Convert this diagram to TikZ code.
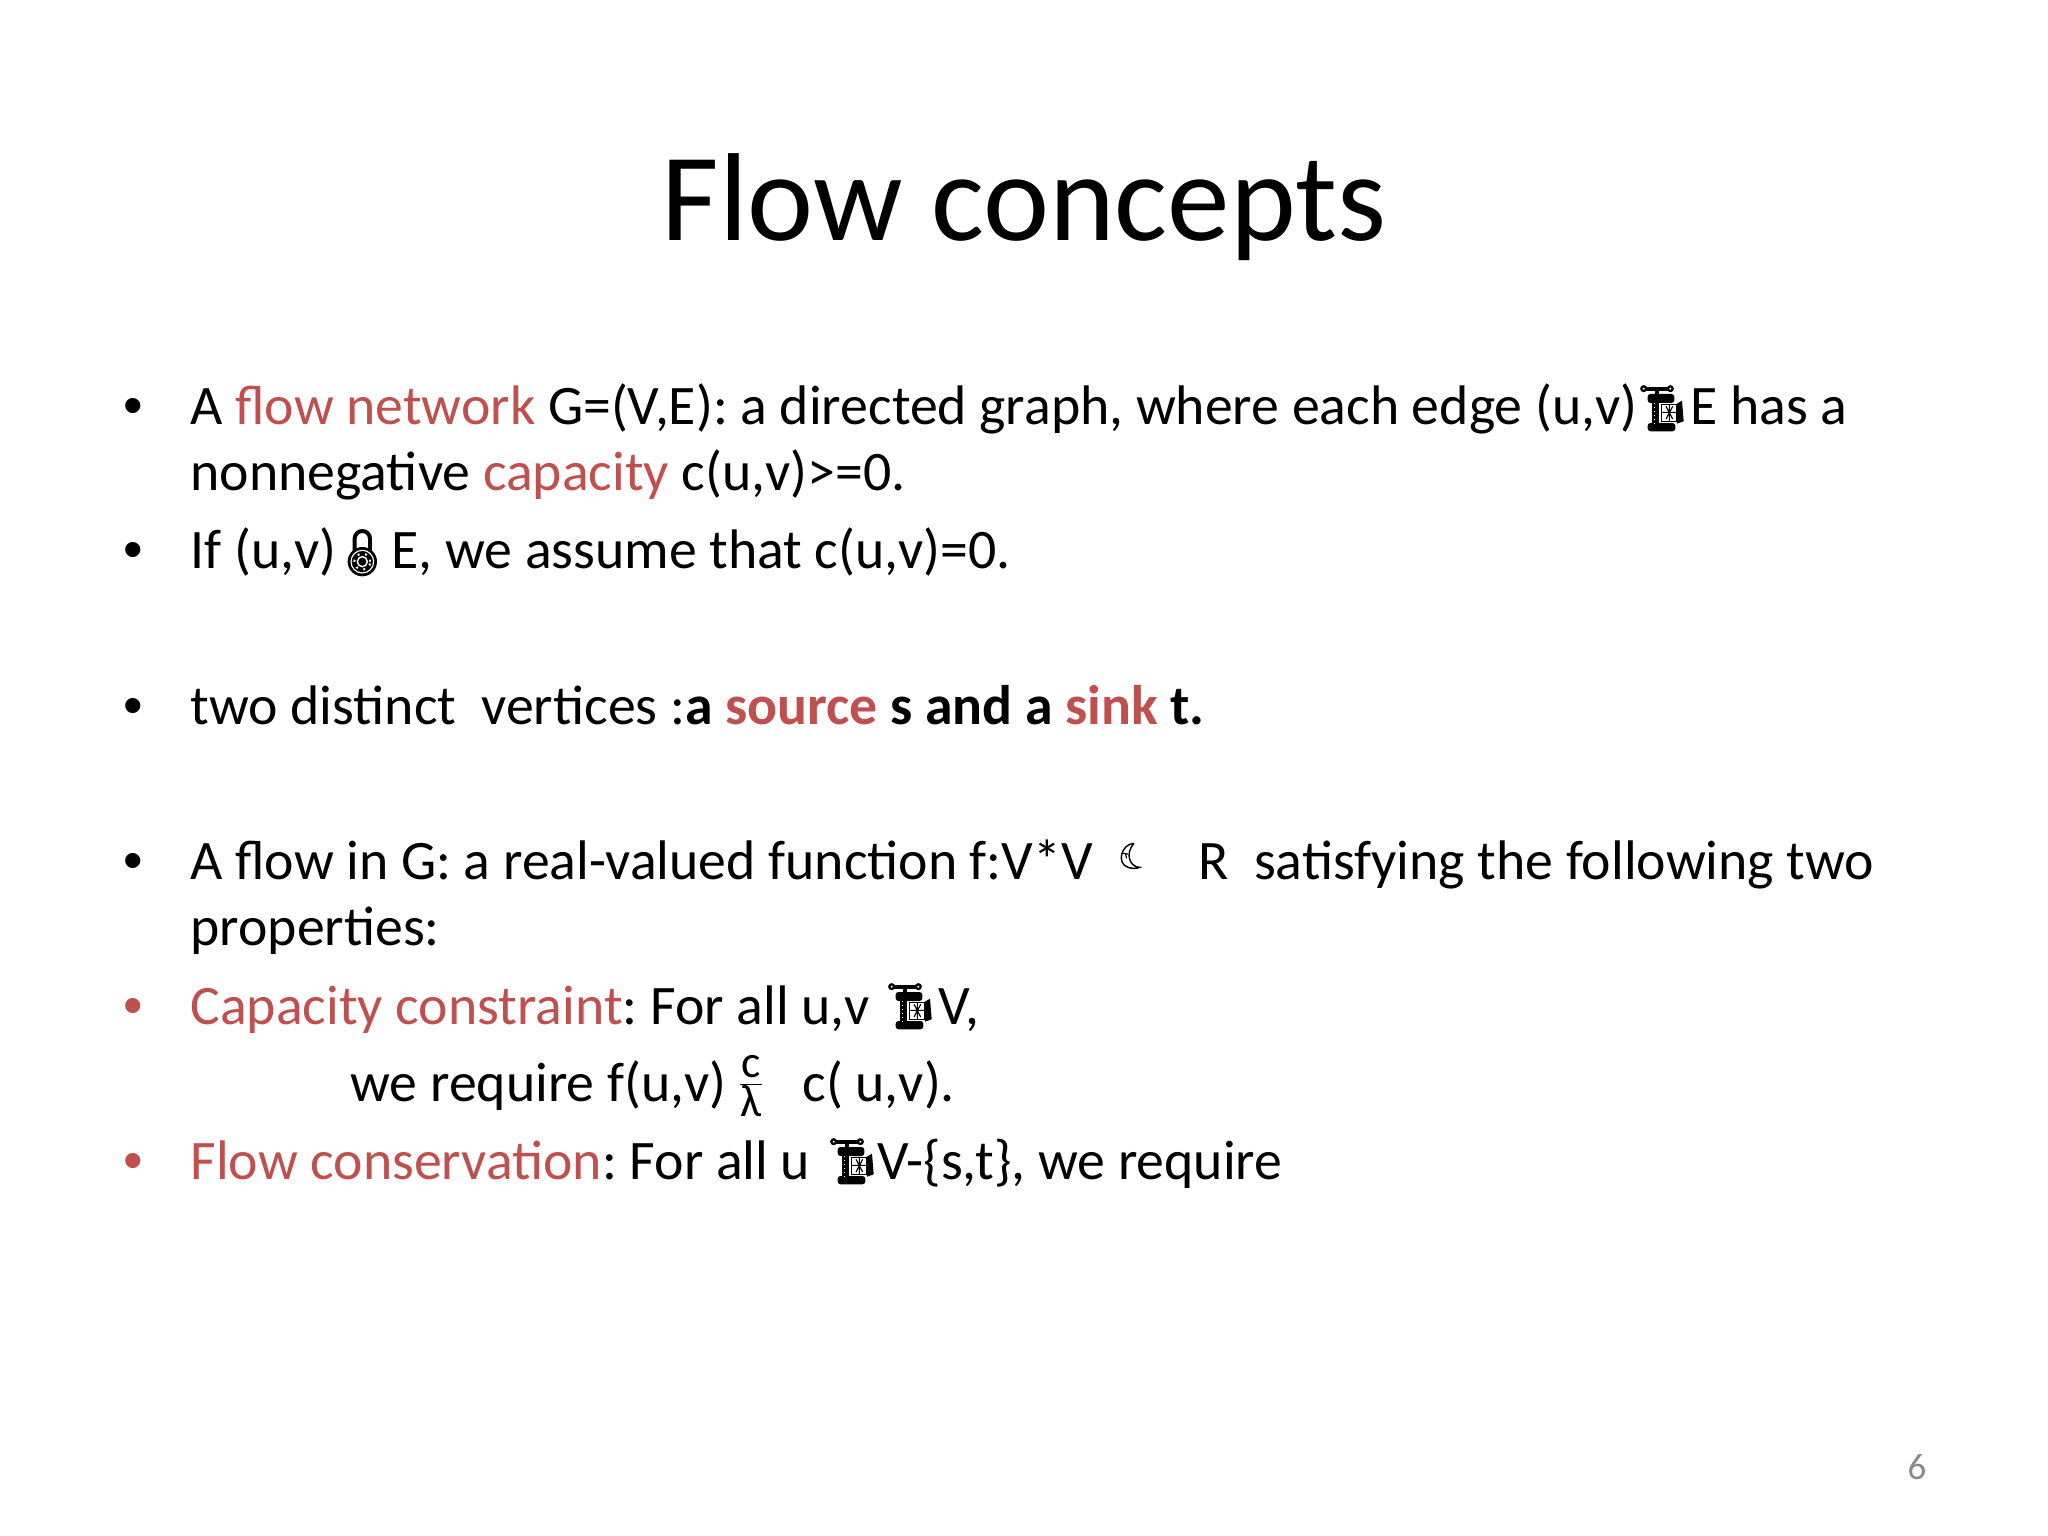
\documentclass[tikz,border=0pt]{standalone}
\usepackage{fontspec}
\setmainfont{Carlito}
\newfontfamily\bulletfont{Liberation Sans}
\definecolor{accentred}{HTML}{C0504D}
\definecolor{numgray}{HTML}{898989}
\newcommand{\redtext}[1]{\textcolor{accentred}{#1}}
\tikzset{
  body/.style={anchor=base west,inner sep=0pt,font=\fontsize{19.6}{24}\selectfont\frenchspacing},
  bulletmark/.style={anchor=base west,inner sep=0pt,font=\bulletfont\fontsize{19.6}{24}\selectfont},
  pics/clampicon/.style={code={
    \begin{scope}[yscale=-1,scale=1/3]
      \draw[line width=0.8pt,fill=white] (5,133) circle (7) (85,133) circle (7);
      \draw[line width=1.3pt] (12,133) -- (78,133) (45,133) -- (45,115);
      \fill[rounded corners=1pt] (17,117) rectangle (97,90);
      \fill[rounded corners=1pt] (17,30) rectangle (100,5);
      \fill (30,92) rectangle (52,28);
      \draw[white,line width=0.4pt,densely dotted] (37,90) -- (37,30);
      \fill (100,85) -- (120,97) -- (125,35) -- (105,28) -- cycle;
      \draw[line width=0.5pt,fill=white] (58,85) rectangle (105,35);
      \draw[line width=0.4pt] (58,62) -- (105,62) (72,80) -- (92,42) (72,42) -- (92,80) (82,85) -- (82,35);
    \end{scope}}},
  pics/lockicon/.style={code={
    \begin{scope}[yscale=-1,scale=1/3]
      \draw[line width=1.4pt] (20,75) -- (20,112) arc (180:0:23) -- (66,75);
      \fill (43,43) circle (44);
      \draw[white,line width=0.4pt] (43,43) circle (34);
      \draw[white,line width=0.5pt] (43,43) circle (15);
      \draw[white,line width=0.7pt,dotted] (43,43) circle (24);
    \end{scope}}},
  pics/moonicon/.style={code={
    \begin{scope}[yscale=-1,scale=1/3]
      \draw[line width=0.5pt] (48,80) .. controls (10,78) and (-6,20) .. (30,8) .. controls (40,4) and (58,4) .. (65,8)
        .. controls (35,8) and (20,50) .. (48,80);
      \draw[line width=0.4pt] (15,50) -- (30,48) (22,50) -- (26,35);
    \end{scope}}}
}
\begin{document}
\begin{tikzpicture}[x=0.3515625pt,y=-0.3515625pt]
  \useasboundingbox (0,0) rectangle (2048,1536);
  % title and page number
  \node[anchor=base,inner sep=0pt,font=\fontsize{44}{50}\selectfont] (title) at (1024,241) {Flow concepts};
  \node[anchor=base,inner sep=0pt,text=numgray,font=\fontsize{13}{15}\selectfont] (pagenum) at (1917,1479) {6};
  % bullets
  \node[bulletmark] (b1) at (123,425) {•};
  \node[bulletmark] (b2) at (123,569) {•};
  \node[bulletmark] (b3) at (123,724) {•};
  \node[bulletmark] (b4) at (123,879) {•};
  \node[bulletmark,text=accentred] (b5) at (123,1024) {•};
  \node[bulletmark,text=accentred] (b6) at (123,1179) {•};
  % text lines
  \node[body] (l1) at (190,425) {A \redtext{flow network} G=(V,E): a directed graph, where each edge (u,v)};
  \node[body] (l1b) at (1690,425) {E has a};
  \node[body] (l2) at (190,491) {nonnegative \redtext{capacity} c(u,v)>=0.};
  \node[body] (l3) at (190,569) {If (u,v)};
  \node[body] (l3b) at (391,569) {E, we assume that c(u,v)=0.};
  \node[body] (l4) at (190,724) {two distinct\ \ vertices :\textbf{a \redtext{source} s and a \redtext{sink} t.}};
  \node[body] (l5) at (190,879) {A flow in G: a real-valued function f:V*V};
  \node[body] (l5b) at (1198,879) {R\ \ satisfying the following two};
  \node[body] (l6) at (190,945) {properties:};
  \node[body] (l7) at (190,1024) {\redtext{Capacity constraint}: For all u,v};
  \node[body] (l7b) at (938,1024) {V,};
  \node[body] (l8) at (350,1101) {we require f(u,v)};
  \node[anchor=center,inner sep=0pt] (leq) at (751,1086) {\fontsize{16}{18}\selectfont$\frac{\mbox{c}}{\mbox{λ}}$};
  \node[body] (l8b) at (802,1101) {c( u,v).};
  \node[body] (l9) at (190,1179) {\redtext{Flow conservation}: For all u};
  \node[body] (l9b) at (877,1179) {V-\{s,t\}, we require};
  % symbols
  \pic at (1642,433) {clampicon};
  \pic at (348,576) {lockicon};
  \pic at (1118,870) {moonicon};
  \pic at (890,1031) {clampicon};
  \pic at (832,1186) {clampicon};
\end{tikzpicture}
\end{document}
